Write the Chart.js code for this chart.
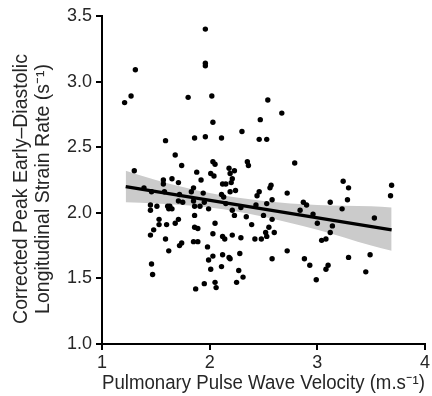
<!DOCTYPE html>
<html>
<head>
<meta charset="utf-8">
<script src="https://cdn.jsdelivr.net/npm/chart.js@4.4.1/dist/chart.umd.min.js"></script>
<style>
  html, body { margin: 0; padding: 0; background: #fff; }
  #wrap { width: 432px; height: 396px; }
</style>
</head>
<body>
<div id="wrap"><canvas id="chart" width="432" height="396"></canvas></div>
<script>
// pulmonary pulse wave velocity (m.s-1), one per subject
const pwv = [
  1.96, 1.96, 1.96, 1.31, 1.27, 1.21, 1.80, 2.02, 2.03, 2.47,
  2.30, 1.59, 1.86, 1.96, 2.11, 2.46, 2.53, 1.68, 1.74, 2.03,
  2.05, 2.35, 2.36, 2.18, 2.54, 2.67, 2.79, 1.30, 1.88, 2.01,
  2.04, 2.19, 2.23, 2.21, 1.57, 1.57, 1.65, 1.71, 1.92, 2.12,
  2.15, 2.20, 1.39, 1.85, 1.83, 2.24, 2.19, 1.46, 1.58, 1.72,
  1.94, 2.11, 2.13, 2.46, 2.44, 1.71, 1.75, 1.85, 1.95, 1.45,
  1.45, 1.51, 1.61, 1.63, 1.62, 1.65, 1.86, 1.91, 1.99, 2.15,
  2.21, 2.29, 2.43, 1.86, 2.23, 2.34, 1.53, 1.53, 1.60, 1.68,
  1.71, 1.48, 1.45, 1.86, 1.89, 2.05, 2.39, 2.03, 2.12, 2.14,
  2.21, 2.29, 2.42, 1.59, 1.62, 1.72, 1.74, 1.85, 1.89, 1.98,
  2.03, 1.99, 2.12, 2.18, 2.19, 2.28, 2.01, 2.11, 2.27, 2.31,
  2.25, 1.46, 1.47, 1.87, 1.95, 2.05, 2.06, 2.57, 2.56, 2.72,
  2.53, 2.58, 3.24, 3.29, 3.69, 3.68, 2.87, 2.90, 3.12, 3.28,
  3.23, 2.84, 2.96, 3.00, 3.14, 3.12, 3.53, 2.50, 2.58, 2.55,
  2.52, 2.60, 2.53, 2.48, 3.04, 3.08, 2.72, 2.58, 2.88, 2.93,
  3.10, 3.08, 3.29, 3.49, 2.99, 3.45
];
// corrected peak early-diastolic longitudinal strain rate (s-1)
const strainRate = [
  3.40, 3.14, 3.12, 3.09, 2.89, 2.84, 2.88, 2.89, 2.69, 2.71,
  2.62, 2.55, 2.57, 2.58, 2.57, 2.56, 2.56, 2.44, 2.36, 2.39,
  2.37, 2.39, 2.36, 2.34, 2.86, 2.76, 2.38, 2.32, 2.31, 2.30,
  2.28, 2.30, 2.32, 2.26, 2.25, 2.22, 2.26, 2.23, 2.25, 2.22,
  2.22, 2.23, 2.19, 2.19, 2.16, 2.17, 2.16, 2.16, 2.16, 2.14,
  2.15, 2.14, 2.12, 2.16, 2.13, 2.09, 2.08, 2.09, 2.08, 2.06,
  2.02, 2.05, 2.05, 2.05, 2.03, 2.03, 2.05, 2.05, 2.03, 2.07,
  2.02, 2.04, 2.06, 1.98, 1.98, 1.97, 1.95, 1.91, 1.91, 1.92,
  1.95, 1.87, 1.83, 1.89, 1.88, 1.92, 1.91, 1.84, 1.82, 1.80,
  1.83, 1.81, 1.80, 1.80, 1.71, 1.75, 1.77, 1.78, 1.78, 1.74,
  1.67, 1.64, 1.68, 1.66, 1.65, 1.69, 1.57, 1.59, 1.56, 1.51,
  1.47, 1.61, 1.53, 1.42, 1.46, 1.47, 1.43, 2.21, 2.19, 2.15,
  2.07, 2.10, 2.24, 2.19, 2.21, 2.13, 2.08, 2.06, 2.08, 2.10,
  2.03, 2.02, 1.99, 1.92, 1.90, 1.85, 1.96, 1.98, 1.95, 1.89,
  1.85, 1.85, 1.82, 1.80, 1.79, 1.80, 1.71, 1.65, 1.65, 1.60,
  1.60, 1.57, 1.66, 1.68, 1.49, 1.55
];

// fitted regression line and its confidence band
const fitX = [1.22, 3.69];
const fitY = [2.20, 1.87];
const bandX = [1.22, 1.5, 2.0, 2.5, 3.0, 3.5, 3.69];
const bandUpper = [2.32, 2.25, 2.15, 2.09, 2.06, 2.05, 2.04];
const bandLower = [2.08, 2.07, 2.04, 1.97, 1.87, 1.75, 1.71];

const xTicks = [1, 2, 3, 4];
const yTicks = [1.0, 1.5, 2.0, 2.5, 3.0, 3.5];

const xTitle = 'Pulmonary Pulse Wave Velocity (m.s\u207B\u00B9)';
const yTitle = ['Corrected Peak Early\u2013Diastolic', 'Longitudinal Strain Rate (s\u207B\u00B9)'];

const FONT = '"Liberation Sans", Arial, Helvetica, sans-serif';
const TXT = '#262626';

const zip = (xs, ys) => xs.map((x, i) => ({ x: x, y: ys[i] }));

// y title drawn by hand so it can sit a bit below the plot centre like the original
const yTitlePlugin = {
  id: 'yTitle',
  afterDraw(chart) {
    const ctx = chart.ctx;
    ctx.save();
    ctx.fillStyle = TXT;
    ctx.font = '19.5px ' + FONT;
    ctx.textAlign = 'center';
    ctx.textBaseline = 'middle';
    const cy = 189;
    [22, 44].forEach((cx, i) => {
      ctx.save();
      ctx.translate(cx, cy);
      ctx.rotate(-Math.PI / 2);
      ctx.fillText(yTitle[i], 0, 0);
      ctx.restore();
    });
    ctx.restore();
  }
};

new Chart(document.getElementById('chart'), {
  type: 'scatter',
  data: {
    datasets: [
      {
        label: 'subjects',
        data: zip(pwv, strainRate),
        backgroundColor: '#000',
        borderColor: '#000',
        pointRadius: 2.7,
        pointBorderWidth: 0,
        order: 0
      },
      {
        type: 'line',
        label: 'fit',
        data: zip(fitX, fitY),
        borderColor: '#000',
        borderWidth: 3.2,
        pointRadius: 0,
        fill: false,
        order: 1
      },
      {
        type: 'line',
        label: 'upper',
        data: zip(bandX, bandUpper),
        borderWidth: 0,
        borderColor: 'rgba(0,0,0,0)',
        backgroundColor: '#cbcbcb',
        pointRadius: 0,
        cubicInterpolationMode: 'monotone',
        fill: '+1',
        order: 2
      },
      {
        type: 'line',
        label: 'lower',
        data: zip(bandX, bandLower),
        borderWidth: 0,
        borderColor: 'rgba(0,0,0,0)',
        pointRadius: 0,
        cubicInterpolationMode: 'monotone',
        fill: false,
        order: 3
      }
    ]
  },
  plugins: [yTitlePlugin],
  options: {
    responsive: false,
    animation: false,
    events: [],
    layout: { padding: { top: 16, right: 4, left: 0, bottom: 0 } },
    plugins: { legend: { display: false }, tooltip: { enabled: false } },
    scales: {
      x: {
        type: 'linear',
        min: 1, max: 4,
        afterBuildTicks: s => { s.ticks = xTicks.map(v => ({ value: v })); },
        afterFit: s => { s.height = 52; },
        border: { color: '#000', width: 2 },
        grid: { drawOnChartArea: false, color: '#000', lineWidth: 2, tickLength: 6 },
        ticks: { color: TXT, padding: 2, font: { family: FONT, size: 18 }, callback: v => String(v) },
        title: { display: true, text: xTitle, color: TXT, padding: { top: 0, bottom: 1 }, font: { family: FONT, size: 19.5 } }
      },
      y: {
        type: 'linear',
        min: 1, max: 3.5,
        afterBuildTicks: s => { s.ticks = yTicks.map(v => ({ value: v })); },
        afterFit: s => { s.width = 102; },
        border: { color: '#000', width: 2 },
        grid: { drawOnChartArea: false, color: '#000', lineWidth: 2, tickLength: 6 },
        ticks: { color: TXT, padding: 4, font: { family: FONT, size: 18 }, callback: v => Number(v).toFixed(1) }
      }
    }
  }
});
</script>
</body>
</html>
